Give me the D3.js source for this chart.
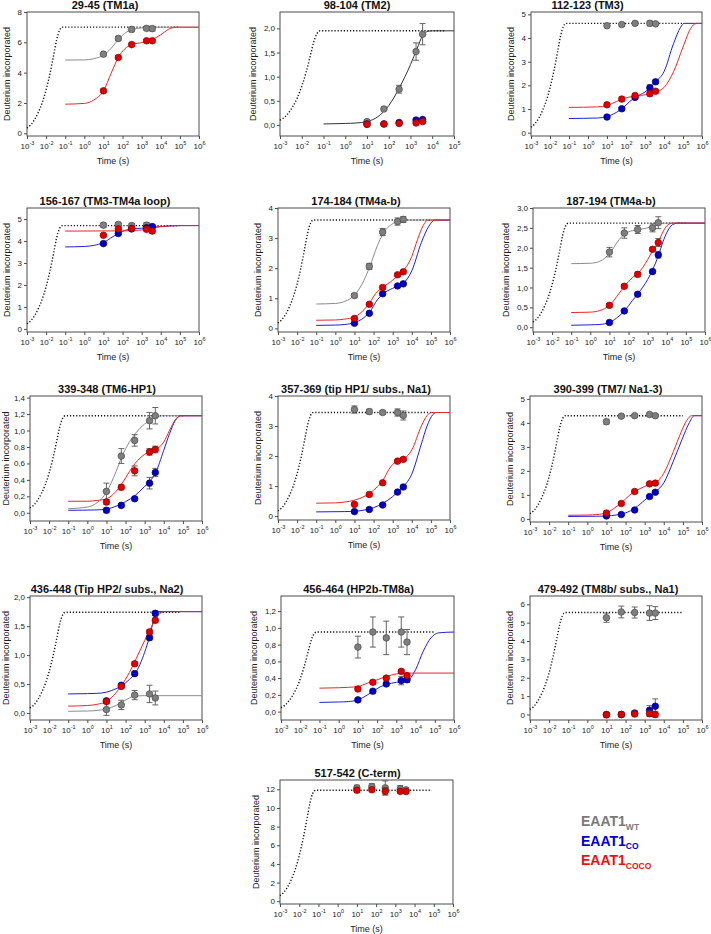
<!DOCTYPE html>
<html><head><meta charset="utf-8">
<script src="https://cdn.jsdelivr.net/npm/d3@7"></script>
<style>
body{margin:0;background:#fff;}
svg{display:block;font-family:"Liberation Sans",Arial,sans-serif;}
</style></head><body>
<svg id="chart" width="711" height="934"></svg>
<script>
// ---------------- DATA ----------------
const times = [10, 60, 300, 1800, 3600];
const titles = ["29-45 (TM1a)", "98-104 (TM2)", "112-123 (TM3)",
  "156-167 (TM3-TM4a loop)", "174-184 (TM4a-b)", "187-194 (TM4a-b)",
  "339-348 (TM6-HP1)", "357-369 (tip HP1/ subs., Na1)", "390-399 (TM7/ Na1-3)",
  "436-448 (Tip HP2/ subs., Na2)", "456-464 (HP2b-TM8a)", "479-492 (TM8b/ subs., Na1)",
  "517-542 (C-term)"];
const xMaxExp = [6,5,6,6,6,6,6,6,6,6,6,6,6];
const xTickExps = [-3,-2,-1,0,1,2,3,4,5,6];
const yDomains = [[-0.18,8],[-0.23,2.34],[-0.14,5.1],[-0.14,5.5],[-0.12,4],[-0.12,3],
  [-0.1,1.42],[-0.13,4],[-0.13,5.12],[-0.12,2.02],[-0.1,1.38],[-0.3,6.45],[-0.3,13]];
const yTickSets = [[0,2,4,6,8],[0,0.5,1,1.5,2],[0,1,2,3,4,5],[0,1,2,3,4,5],[0,1,2,3,4],
  [0,0.5,1,1.5,2,2.5,3],[0,0.2,0.4,0.6,0.8,1,1.2,1.4],[0,1,2,3,4],[0,1,2,3,4,5],
  [0,0.5,1,1.5,2],[0,0.2,0.4,0.6,0.8,1,1.2],[0,1,2,3,4,5,6],[0,2,4,6,8,10,12]];
const plateaus = [7.0,1.95,4.62,4.7,3.6,2.62,1.18,3.45,4.3,1.74,0.95,5.55,11.9];
const dottedEndExp = [5,4.6,5,5,5,5,5,5,5,4.9,5,5,4.9];
// intrinsic (unstructured) exchange curve, fraction of plateau vs log10(time)
const dottedShape = [[-3,0.05],[-2.8,0.08],[-2.6,0.13],[-2.4,0.2],[-2.2,0.29],[-2,0.41],
  [-1.8,0.56],[-1.6,0.74],[-1.45,0.88],[-1.3,0.97],[-1.15,1.0]];

const wtValues = [[5.22,6.25,6.85,6.92,6.9],[0.07,0.33,0.74,1.52,1.88],[4.52,4.57,4.62,4.62,4.6],
  [4.72,4.75,4.7,4.72,4.65],[1.09,2.06,3.2,3.55,3.62],[1.89,2.37,2.46,2.5,2.63],
  [0.26,0.69,0.88,1.12,1.18],[3.55,3.48,3.45,3.45,3.35],[4.05,4.28,4.3,4.35,4.3],
  [0.06,0.14,0.31,0.33,0.26],[0.77,0.95,0.88,0.95,0.83],[5.27,5.58,5.55,5.52,5.52],
  [12.15,12.3,12.15,12.05,11.95]];
const wtErrors = [[0.1,0.15,0.15,0.12,0.15],[0.03,0.03,0.08,0.18,0.22],[0.05,0.06,0.07,0.1,0.05],
  [0.1,0.1,0.1,0.12,0.1],[0.06,0.1,0.12,0.12,0.1],[0.12,0.13,0.1,0.1,0.15],
  [0.1,0.09,0.07,0.1,0.1],[0.12,0.08,0.06,0.12,0.15],[0.1,0.06,0.05,0.05,0.05],
  [0.1,0.08,0.08,0.15,0.12],[0.13,0.18,0.2,0.18,0.15],[0.25,0.32,0.3,0.4,0.35],
  [0.3,0.3,0.75,0.35,0.2]];
const coValues = [null,[0.02,0.02,0.05,0.10,0.11],[0.66,1.01,1.49,1.9,2.15],
  [3.88,4.34,4.55,4.6,4.65],[0.17,0.5,1.15,1.41,1.48],[0.12,0.41,0.83,1.4,1.82],
  [0.03,0.09,0.17,0.36,0.49],[0.15,0.22,0.37,0.8,0.97],[0.12,0.18,0.37,0.93,1.11],
  [0.21,0.48,0.68,1.3,1.72],[0.14,0.244,0.33,0.37,0.38],[0.0,0.0,0.08,0.23,0.45],null];
const coErrors = [null,[0.02,0.02,0.02,0.02,0.02],[0.06,0.06,0.06,0.12,0.08],
  [0.05,0.05,0.05,0.05,0.05],[0.03,0.04,0.06,0.04,0.04],[0.02,0.03,0.04,0.04,0.08],
  [0.03,0.02,0.02,0.07,0.05],[0.03,0.03,0.04,0.05,0.05],[0.02,0.02,0.03,0.04,0.05],
  [0.03,0.03,0.03,0.04,0.04],[0.02,0.02,0.02,0.05,0.03],[0.1,0.1,0.1,0.25,0.4],null];
const cocoValues = [[2.8,5.0,5.85,6.1,6.1],[0.01,0.02,0.03,0.04,0.07],[1.18,1.42,1.57,1.65,1.75],
  [4.26,4.55,4.57,4.53,4.45],[0.33,0.8,1.36,1.78,1.88],[0.55,1.03,1.33,1.96,2.13],
  [0.13,0.31,0.51,0.74,0.77],[0.39,0.72,1.11,1.83,1.89],[0.24,0.64,1.14,1.46,1.49],
  [0.2,0.46,0.85,1.4,1.6],[0.27,0.35,0.4,0.48,0.43],[-0.02,0.0,0.03,0.04,0.0],
  [11.9,11.95,11.8,11.78,11.76]];
const cocoErrors = [[0.12,0.12,0.1,0.08,0.1],[0.02,0.02,0.02,0.02,0.02],[0.06,0.08,0.08,0.1,0.08],
  [0.05,0.05,0.06,0.08,0.1],[0.04,0.04,0.06,0.05,0.04],[0.04,0.05,0.06,0.05,0.1],
  [0.03,0.03,0.06,0.04,0.04],[0.04,0.05,0.04,0.05,0.05],[0.05,0.04,0.05,0.05,0.05],
  [0.03,0.03,0.03,0.04,0.04],[0.02,0.02,0.02,0.02,0.02],[0.15,0.15,0.15,0.15,0.15],
  [0.2,0.2,0.4,0.2,0.2]];

// fitted kinetic curves: [log10(time), deuterium]
const wtFits = [
  [[-1,4.83],[0,4.84],[0.5,4.92],[1,5.15],[1.4,5.6],[1.8,6.22],[2.1,6.58],[2.5,6.84],[3,6.95],[3.6,7.0],[6,7.0]],
  [[-1,0.02],[0,0.03],[0.5,0.04],[1,0.07],[1.5,0.17],[2,0.4],[2.5,0.78],[3,1.25],[3.3,1.58],[3.56,1.85],[3.8,1.94],[4,1.95],[5,1.95]],
  null, null,
  [[-1,0.81],[0,0.83],[0.5,0.9],[1,1.1],[1.5,1.6],[1.8,2.05],[2.2,2.75],[2.5,3.15],[3,3.48],[3.5,3.6],[6,3.6]],
  [[-1,1.6],[0,1.61],[0.5,1.66],[1,1.85],[1.5,2.2],[1.8,2.35],[2.2,2.43],[2.5,2.46],[3,2.5],[3.5,2.58],[4,2.62],[6,2.62]],
  [[-1,0.05],[0,0.07],[0.5,0.12],[1,0.25],[1.5,0.5],[1.8,0.68],[2.2,0.86],[2.5,0.96],[3,1.08],[3.26,1.12],[3.56,1.16],[4,1.18],[6,1.18]],
  null, null,
  [[-1,0.03],[0,0.035],[0.5,0.045],[1,0.07],[1.5,0.13],[1.8,0.18],[2.2,0.26],[2.5,0.29],[3,0.3],[6,0.3]],
  null, null, null];
const coFits = [
  null, null,
  [[-1,0.6],[0.5,0.62],[1,0.68],[1.5,0.86],[1.8,1.02],[2.2,1.32],[2.5,1.5],[3,1.72],[3.26,1.9],[3.56,2.15],[4,2.58],[4.5,3.76],[4.87,4.45],[5.05,4.62],[6,4.62]],
  [[-1,3.73],[0,3.75],[0.5,3.8],[1,3.93],[1.5,4.2],[1.8,4.35],[2.2,4.5],[2.5,4.55],[3,4.58],[4,4.65],[5,4.7],[6,4.7]],
  [[-1,0.1],[0,0.11],[0.5,0.13],[1,0.19],[1.5,0.36],[1.8,0.55],[2.2,0.95],[2.5,1.15],[3,1.33],[3.26,1.41],[3.56,1.5],[4,1.91],[4.5,2.85],[4.9,3.4],[5.2,3.6],[6,3.6]],
  [[-1,0.05],[0,0.06],[0.5,0.07],[1,0.12],[1.5,0.28],[1.8,0.42],[2.2,0.67],[2.5,0.85],[3,1.2],[3.26,1.45],[3.56,1.8],[3.8,2.15],[4,2.38],[4.3,2.58],[4.6,2.62],[6,2.62]],
  [[-1,0.03],[0.5,0.035],[1,0.045],[1.5,0.08],[2,0.135],[2.5,0.21],[3,0.32],[3.26,0.38],[3.56,0.48],[4,0.76],[4.3,0.96],[4.6,1.12],[4.9,1.18],[6,1.18]],
  [[-1,0.14],[0.5,0.15],[1,0.16],[1.5,0.2],[2,0.28],[2.5,0.43],[3,0.65],[3.26,0.8],[3.56,0.98],[4,1.4],[4.5,2.4],[4.8,3.0],[5.1,3.38],[5.3,3.45],[6,3.45]],
  [[-1,0.1],[0.5,0.11],[1,0.12],[1.5,0.16],[2,0.25],[2.5,0.45],[3,0.78],[3.26,0.95],[3.56,1.12],[4,1.5],[4.5,2.4],[5,3.4],[5.3,3.95],[5.6,4.3],[6,4.3]],
  [[-1,0.33],[0,0.335],[0.5,0.34],[1,0.36],[1.5,0.42],[1.8,0.47],[2.2,0.58],[2.5,0.68],[3,1.05],[3.26,1.32],[3.56,1.7],[3.7,1.75],[6,1.75]],
  [[-1,0.11],[0,0.115],[0.5,0.12],[1,0.14],[1.5,0.2],[1.8,0.245],[2.2,0.3],[2.5,0.325],[3,0.35],[3.5,0.37],[3.7,0.39],[4,0.5],[4.4,0.72],[4.8,0.88],[5.2,0.94],[6,0.95]],
  null, null];
const cocoFits = [
  [[-1,1.92],[0,1.97],[0.5,2.2],[1,2.8],[1.4,3.95],[1.8,5.05],[2.1,5.55],[2.5,5.85],[3,5.98],[3.5,6.15],[4,6.5],[4.4,6.85],[4.8,7.0],[6,7.0]],
  null,
  [[-1,1.07],[0.5,1.09],[1,1.15],[1.5,1.32],[1.8,1.42],[2.5,1.55],[3,1.6],[3.5,1.7],[4,1.91],[4.5,2.57],[5,3.62],[5.4,4.4],[5.7,4.62],[6,4.62]],
  [[-1,4.45],[2,4.46],[3,4.5],[3.5,4.58],[4,4.66],[5,4.7],[6,4.7]],
  [[-1,0.27],[0,0.28],[0.5,0.31],[1,0.38],[1.5,0.62],[1.8,0.85],[2.1,1.15],[2.5,1.38],[3,1.6],[3.26,1.76],[3.56,1.92],[4,2.39],[4.3,2.95],[4.6,3.42],[4.85,3.6],[6,3.6]],
  [[-1,0.37],[0,0.38],[0.5,0.42],[1,0.55],[1.5,0.85],[1.8,1.04],[2.2,1.25],[2.5,1.36],[3,1.7],[3.26,1.93],[3.56,2.15],[3.8,2.4],[4,2.55],[4.3,2.62],[6,2.62]],
  [[-1,0.14],[0,0.14],[0.5,0.15],[1,0.17],[1.5,0.26],[1.8,0.35],[2.2,0.5],[2.5,0.6],[3,0.71],[3.26,0.74],[3.56,0.77],[4,0.86],[4.3,1.0],[4.6,1.13],[4.85,1.18],[6,1.18]],
  [[-1,0.43],[0,0.44],[0.5,0.47],[1,0.53],[1.5,0.65],[1.8,0.76],[2.2,0.98],[2.5,1.2],[2.8,1.55],[3,1.72],[3.26,1.83],[3.56,1.9],[4,2.2],[4.5,3.0],[4.8,3.35],[5.05,3.45],[6,3.45]],
  [[-1,0.15],[0,0.16],[0.5,0.18],[1,0.25],[1.5,0.5],[1.8,0.68],[2.2,0.98],[2.5,1.15],[3,1.35],[3.26,1.43],[3.56,1.5],[4,1.9],[4.5,2.8],[4.9,3.6],[5.2,4.1],[5.45,4.3],[6,4.3]],
  [[-1,0.12],[0,0.13],[0.5,0.15],[1,0.2],[1.5,0.35],[1.8,0.48],[2.2,0.7],[2.5,0.9],[3,1.25],[3.26,1.42],[3.56,1.62],[3.8,1.72],[4.1,1.75],[6,1.75]],
  [[-1,0.28],[0,0.285],[0.5,0.29],[1,0.3],[1.5,0.34],[2,0.38],[2.5,0.42],[3,0.45],[3.5,0.46],[6,0.46]],
  null, null];

const legendLabels = [["EAAT1","WT"],["EAAT1","CO"],["EAAT1","COCO"]];

// ---------------- LAYOUT / STYLE ----------------
// plot boxes [left, right, top, bottom] in px
const boxes = [[27,199,12,136],[280,454,12,136],[531,702,12,136],
  [27,199,208,332],[278,450,208,332],[533,705,208,332],
  [30,202,396,521],[278,450,396,520],[530,702,396,522],
  [30,202,596,720],[281,454,596,720],[530,702,596,720],
  [280,453,780,904]];
const titleShift = [-8,-10,-29,-8,-8,-8,-9,-8,-8,-9,-9,-8,-9];
const wtFitColor = ["#8c8c8c","#333333","#8c8c8c","#8c8c8c","#8c8c8c","#8c8c8c","#8c8c8c",
  "#8c8c8c","#8c8c8c","#8c8c8c","#8c8c8c","#8c8c8c","#8c8c8c"];
const colors = {
  wt:{fill:"#7f7f7f", stroke:"#4a4a4a", line:"#8c8c8c"},
  co:{fill:"#0000c8", stroke:"#00006e", line:"#2020d0"},
  coco:{fill:"#e00000", stroke:"#8a0000", line:"#e82828"}
};
const legendColors = ["#7a7a7a","#0000cc","#ee1111"];

const svg = d3.select("#chart");
const commaFmt = d3.formatLocale({decimal:",", thousands:".", grouping:[3], currency:["",""]}).format(".1f");

titles.forEach((title, i) => {
  const [L, R, T, B] = boxes[i];
  const x = d3.scaleLog().domain([1e-3, Math.pow(10, xMaxExp[i])]).range([L, R]);
  const y = d3.scaleLinear().domain(yDomains[i]).range([B, T]);
  const g = svg.append("g");
  const lx = k => x(Math.pow(10, k));

  // frame
  g.append("rect").attr("x", L).attr("y", T).attr("width", R - L).attr("height", B - T)
    .attr("fill", "none").attr("stroke", "#4d4d4d").attr("stroke-width", 1);

  // y axis
  const ticks = yTickSets[i];
  const frac = ticks.some(t => Math.round(t) !== t);
  const yAxis = d3.axisLeft(y).tickValues(ticks).tickSize(3).tickPadding(2)
    .tickFormat(frac ? commaFmt : d3.format("d"));
  const ya = g.append("g").attr("transform", `translate(${L},0)`).call(yAxis);
  ya.select(".domain").remove();
  ya.selectAll("line").attr("stroke", "#4d4d4d");
  ya.selectAll("text").attr("font-size", 8).attr("fill", "#222")
    .attr("font-family", '"Liberation Sans",Arial,sans-serif');
  let maxW = 0;
  ya.selectAll("text").each(function(){ maxW = Math.max(maxW, this.getComputedTextLength()); });

  // x axis
  const xt = xTickExps.filter(e => e <= xMaxExp[i]).map(e => Math.pow(10, e));
  const xAxis = d3.axisBottom(x).tickValues(xt).tickSize(3).tickFormat("");
  const xa = g.append("g").attr("transform", `translate(0,${B})`).call(xAxis);
  xa.select(".domain").remove();
  xa.selectAll("line").attr("stroke", "#4d4d4d");
  xa.selectAll(".tick").each(function(d){
    const t = d3.select(this).append("text").attr("y", 12.5).attr("text-anchor", "middle")
      .attr("font-size", 8).attr("fill", "#222");
    t.append("tspan").text("10");
    t.append("tspan").attr("font-size", 5.5).attr("dy", -3.5).text(Math.round(Math.log10(d)));
  });

  // axis titles
  g.append("text").attr("x", (L + R) / 2).attr("y", B + 27.5).attr("text-anchor", "middle")
    .attr("font-size", 9).attr("fill", "#222").text("Time (s)");
  const ylx = Math.max(L - maxW - 12.5, 9);
  g.append("text").attr("transform", `translate(${ylx},${(T + B) / 2}) rotate(-90)`)
    .attr("text-anchor", "middle").attr("font-size", 9).attr("fill", "#222").text("Deuterium incorporated");

  // panel title
  g.append("text").attr("x", (L + R) / 2 + titleShift[i]).attr("y", T - 3).attr("text-anchor", "middle")
    .attr("font-size", 11).attr("font-weight", "bold").attr("fill", "#111").text(title);

  // dotted intrinsic curve
  const yN = d3.scaleLinear().domain([0, 1]).range([y(0), y(plateaus[i])]);
  const dotData = dottedShape.concat([[dottedEndExp[i], 1]]);
  g.append("path").datum(dotData)
    .attr("d", d3.line().x(d => lx(d[0])).y(d => yN(d[1])).curve(d3.curveMonotoneX))
    .attr("fill", "none").attr("stroke", "#111").attr("stroke-width", 1.4)
    .attr("stroke-dasharray", "1.2,1.9");

  // fitted curves
  const fitLine = d3.line().x(d => lx(d[0])).y(d => y(d[1])).curve(d3.curveMonotoneX);
  [[wtFits[i], wtFitColor[i]], [coFits[i], colors.co.line], [cocoFits[i], colors.coco.line]]
    .forEach(([fit, col]) => {
      if (!fit) return;
      g.append("path").datum(fit).attr("d", fitLine).attr("fill", "none")
        .attr("stroke", col).attr("stroke-width", 1);
    });

  // points with error bars
  const series = [[wtValues[i], wtErrors[i], colors.wt], [coValues[i], coErrors[i], colors.co],
                  [cocoValues[i], cocoErrors[i], colors.coco]];
  series.forEach(([vals, errs, c]) => {
    if (!vals) return;
    const pts = vals.map((v, k) => ({t: times[k], v, e: errs[k]}));
    const sg = g.append("g");
    const eb = sg.selectAll("g.eb").data(pts).join("g").attr("class", "eb")
      .attr("stroke", "#555").attr("stroke-width", 0.9);
    eb.append("line").attr("x1", d => x(d.t)).attr("x2", d => x(d.t))
      .attr("y1", d => y(d.v - d.e)).attr("y2", d => y(d.v + d.e));
    eb.append("line").attr("x1", d => x(d.t) - 3).attr("x2", d => x(d.t) + 3)
      .attr("y1", d => y(d.v - d.e)).attr("y2", d => y(d.v - d.e));
    eb.append("line").attr("x1", d => x(d.t) - 3).attr("x2", d => x(d.t) + 3)
      .attr("y1", d => y(d.v + d.e)).attr("y2", d => y(d.v + d.e));
    sg.selectAll("circle").data(pts).join("circle")
      .attr("cx", d => x(d.t)).attr("cy", d => y(d.v)).attr("r", 3.3)
      .attr("fill", c.fill).attr("stroke", c.stroke).attr("stroke-width", 0.7);
  });
});

// legend
const lg = svg.append("g").attr("font-weight", "bold");
legendLabels.forEach(([main, sub], k) => {
  const t = lg.append("text").attr("x", 581).attr("y", 826 + k * 19.5)
    .attr("font-size", 14).attr("fill", legendColors[k]);
  t.append("tspan").text(main);
  t.append("tspan").attr("font-size", 8.5).attr("dy", 3.5).text(sub);
});
</script>
</body></html>
